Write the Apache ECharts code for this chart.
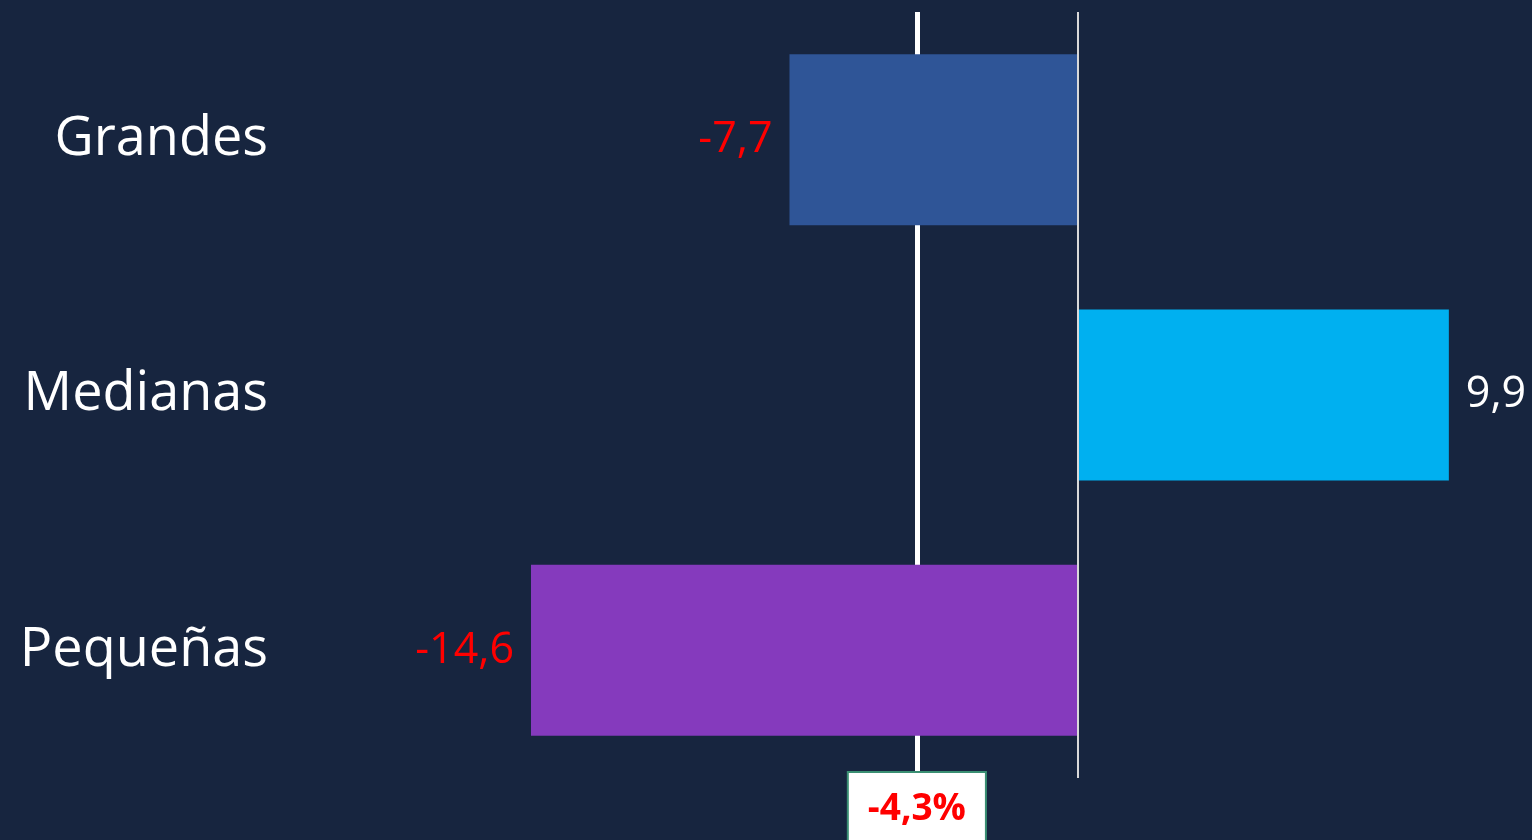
<!DOCTYPE html>
<html>
<head>
<meta charset="utf-8">
<script src="https://cdn.jsdelivr.net/npm/echarts@6/dist/echarts.min.js"></script>
<style>
  html, body { margin: 0; padding: 0; background: #17253f; }
  #chart { width: 1532px; height: 840px; }
</style>
</head>
<body>
<div id="chart"></div>
<script>
// datos
var categorias = ['Grandes', 'Medianas', 'Pequeñas'];
var valores = [-7.7, 9.9, -14.6];
var promedio = -4.3;

var coloresBarra = ['#2f5597', '#00b0f0', '#853abd'];

function fmt(v) {
    return String(v).replace('.', ',');
}

var datosBarra = [];
for (var i = 0; i < valores.length; i++) {
    datosBarra.push({
        value: valores[i],
        itemStyle: { color: coloresBarra[i] },
        label: {
            position: valores[i] < 0 ? 'left' : 'right',
            color: valores[i] < 0 ? '#ff0000' : '#ffffff'
        }
    });
}

var myChart = echarts.init(document.getElementById('chart'));
var option = {
    backgroundColor: '#17253f',
    animation: false,
    grid: {
        left: 516,
        right: 79.4,
        top: 12,
        bottom: 62
    },
    xAxis: {
        type: 'value',
        min: -15,
        max: 10,
        show: false
    },
    yAxis: {
        type: 'category',
        inverse: true,
        data: categorias,
        axisLine: { show: false },
        axisTick: { show: false },
        axisLabel: {
            margin: 248,
            color: '#ffffff',
            fontFamily: 'Open Sans',
            fontSize: 54
        }
    },
    series: [
        {
            // linea del promedio, detras de las barras
            type: 'line',
            data: [],
            z: 1,
            markLine: {
                z: 1,
                silent: true,
                symbol: 'none',
                lineStyle: { color: '#ffffff', width: 5, type: 'solid' },
                label: {
                    show: true,
                    position: 'end',
                    distance: -5,
                    formatter: fmt(promedio) + '%',
                    color: '#ff0000',
                    fontFamily: 'Open Sans',
                    fontWeight: 'bold',
                    fontSize: 37,
                    backgroundColor: '#ffffff',
                    borderColor: '#3a8f73',
                    borderWidth: 2,
                    padding: [18, 19, 26, 19]
                },
                data: [{ xAxis: promedio }]
            }
        },
        {
            type: 'bar',
            z: 5,
            barWidth: '67%',
            data: datosBarra,
            label: {
                show: true,
                distance: 17,
                fontFamily: 'Open Sans',
                fontSize: 43,
                formatter: function (p) { return fmt(p.value); }
            },
            markLine: {
                z: 8,
                silent: true,
                symbol: 'none',
                lineStyle: { color: '#d9d9d9', width: 2, type: 'solid' },
                label: { show: false },
                data: [{ xAxis: 0 }]
            }
        }
    ]
};
myChart.setOption(option);
</script>
</body>
</html>
